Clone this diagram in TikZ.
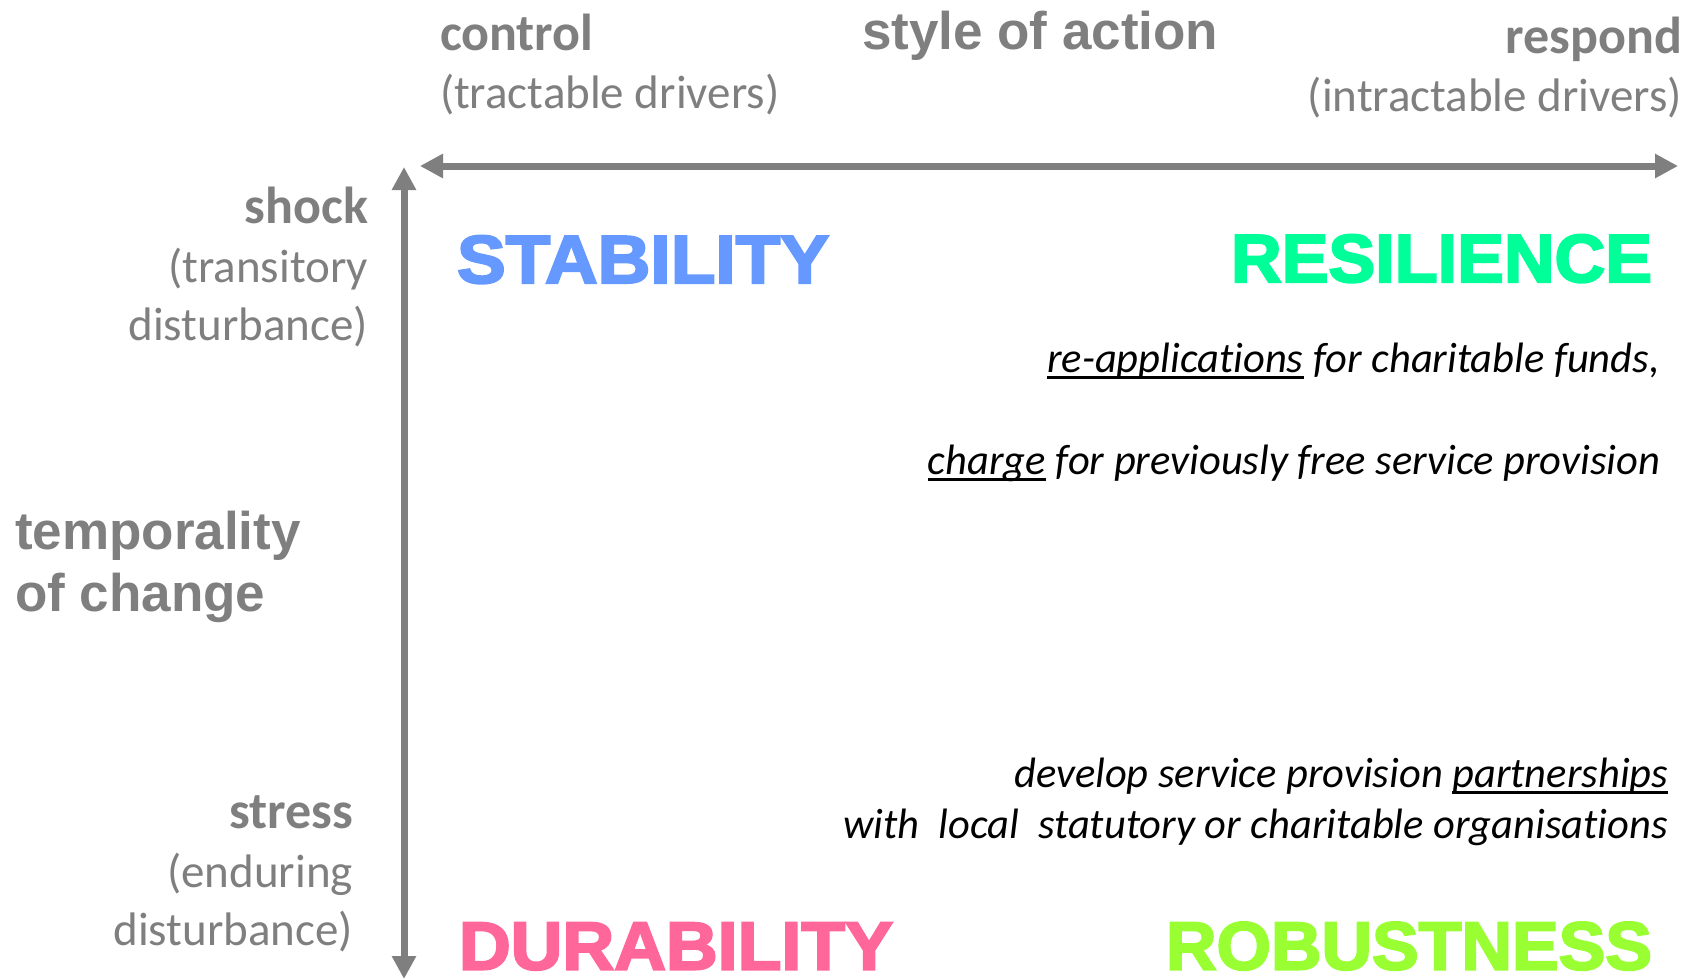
\documentclass[tikz,border=0pt]{standalone}
\usepackage{fontspec}
\setmainfont{Carlito}[Ligatures=NoCommon]
\newfontfamily\arialfam{Liberation Sans}
\newfontfamily\blackfam{Liberation Sans Bold}[FakeBold=3]
\usetikzlibrary{arrows.meta}
\definecolor{axisgray}{RGB}{127,127,127}
\definecolor{stabblue}{RGB}{102,153,255}
\definecolor{resgreen}{RGB}{0,255,153}
\definecolor{durpink}{RGB}{255,102,153}
\definecolor{robgreen}{RGB}{153,255,51}
\newcommand\myul[1]{\setbox0=\hbox{#1}\rlap{\rule[-0.17em]{\wd0}{0.065em}}\box0\relax}
\newcommand\quadtxt[2]{\resizebox{#1pt}{\height}{#2}}
\tikzset{
  lbl/.style={inner sep=0pt, outer sep=0pt, text=axisgray},
  headlbl/.style={lbl, font=\fontsize{52}{62}\selectfont\bfseries},
  sublbl/.style={lbl, font=\fontsize{47}{56}\selectfont},
  titlelbl/.style={lbl, font=\arialfam\bfseries\fontsize{53}{62}\selectfont},
  quadlbl/.style={inner sep=0pt, outer sep=0pt, font=\blackfam\fontsize{68}{80}\selectfont},
  notelbl/.style={inner sep=0pt, outer sep=0pt, text=black, font=\fontsize{42.5}{50}\selectfont\itshape},
  axisarrow/.style={draw=axisgray, line width=7pt, {Triangle[length=23pt,width=23pt]}-{Triangle[length=23pt,width=23pt]}}
}
\begin{document}
\begin{tikzpicture}[x=1pt,y=-1pt]
\path[use as bounding box, fill=white] (0,0) rectangle (1689,977);

% top labels
\node[headlbl, anchor=base west] (ctrl) at (440,50) {control};
\node[sublbl, anchor=base west] (tract) at (440,108) {(tractable drivers)};
\node[titlelbl, anchor=base west] (style) at (862,49) {style of action};
\node[headlbl, anchor=base east] (resp) at (1682,53) {respond};
\node[sublbl, anchor=base east] (intract) at (1682,111.5) {(intractable drivers)};

% axes
\coordinate (hl) at (420,166);
\coordinate (hr) at (1678,166);
\coordinate (vt) at (404,167);
\coordinate (vb) at (404,979);
\draw[axisarrow] (hl) -- (hr);
\draw[axisarrow] (vb) -- (vt);

% left labels
\node[headlbl, anchor=base east] (shock) at (368,223) {shock};
\node[sublbl, anchor=base east] (trans) at (368,282) {(transitory};
\node[sublbl, anchor=base east] (dist1) at (368,340) {disturbance)};
\node[titlelbl, anchor=base west] (temp1) at (15,549) {temporality};
\node[titlelbl, anchor=base west] (temp2) at (15,611) {of change};
\node[headlbl, anchor=base east] (stress) at (353,828) {stress};
\node[sublbl, anchor=base east] (endur) at (353,887) {(enduring};
\node[sublbl, anchor=base east] (dist2) at (353,945) {disturbance)};

% quadrant titles
\node[quadlbl, text=stabblue, anchor=base west] (stab) at (457,283) {\quadtxt{372}{STABILITY}};
\node[quadlbl, text=resgreen, anchor=base east] (resil) at (1652,282) {\quadtxt{421}{RESILIENCE}};
\node[quadlbl, text=durpink, anchor=base west] (dura) at (459,969.5) {\quadtxt{434}{DURABILITY}};
\node[quadlbl, text=robgreen, anchor=base east] (robu) at (1652,969.5) {\quadtxt{486}{ROBUSTNESS}};

% notes
\node[notelbl, anchor=base east] (n1) at (1660,372) {\myul{re-applications} for charitable funds,};
\node[notelbl, anchor=base east] (n2) at (1660,474) {\myul{charge} for previously free service provision};
\node[notelbl, anchor=base east] (n3) at (1668,787) {develop service provision \myul{partnerships}};
\node[notelbl, anchor=base east] (n4) at (1668,838) {with~ local~ statutory or charitable organisations};
\end{tikzpicture}
\end{document}
